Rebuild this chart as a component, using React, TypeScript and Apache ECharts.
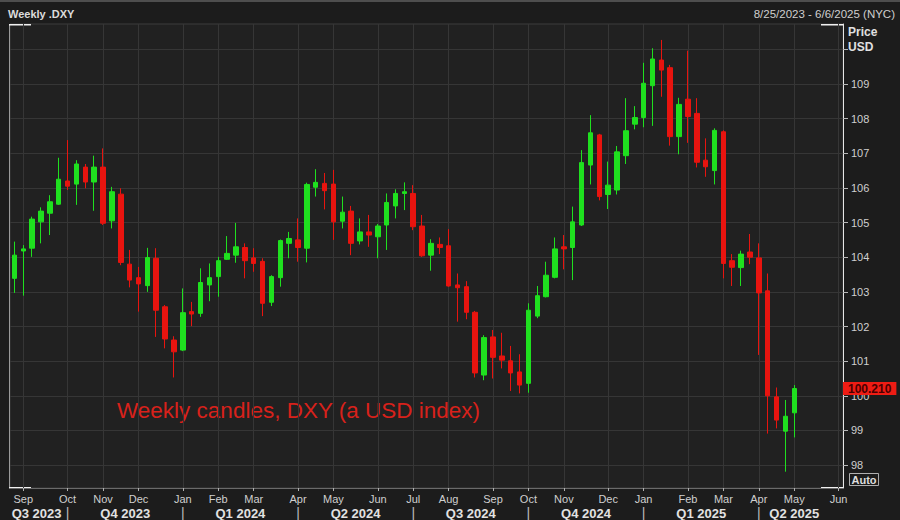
import React, { useEffect, useRef } from 'react';
import * as echarts from 'echarts';

// ---- data (weekly DXY candles, week ending Friday) ----
const firstWeek = '2023-08-25';
const weekSlots = 94; // axis runs 8/25/2023 - 6/6/2025
const opens = [
  103.39, 104.18, 104.26, 105.02, 105.27, 105.53, 106.20, 106.11, 106.60, 106.17,
  106.60, 105.05, 105.82, 103.80, 103.41, 103.18, 103.97, 102.57, 101.61, 101.32,
  102.43, 102.38, 103.20, 103.44, 103.94, 104.06, 104.28, 103.98, 103.88, 102.70,
  103.41, 104.40, 104.50, 104.26, 106.02, 106.13, 106.11, 105.04, 105.33, 104.47,
  104.73, 104.59, 104.93, 105.48, 105.84, 105.84, 104.90, 104.06, 104.37, 104.33,
  103.20, 103.15, 102.41, 100.60, 101.70, 101.15, 101.01, 100.69, 100.36, 102.30,
  102.86, 103.42, 104.30, 104.28, 104.93, 106.66, 107.53, 105.81, 105.94, 106.93,
  107.84, 108.03, 108.95, 109.69, 109.47, 107.48, 108.56, 108.15, 106.80, 106.50,
  107.62, 103.90, 103.70, 104.15, 103.98, 103.03, 99.97, 98.98, 99.51,
];
const closes = [
  104.06, 104.24, 105.10, 105.33, 105.60, 106.25, 106.05, 106.69, 106.17, 106.60,
  104.98, 105.89, 103.85, 103.34, 103.23, 103.99, 102.47, 101.64, 101.27, 102.40,
  102.36, 103.27, 103.41, 103.90, 104.11, 104.30, 103.90, 103.82, 102.67, 103.44,
  104.48, 104.54, 104.28, 106.10, 106.16, 105.92, 105.02, 105.30, 104.40, 104.73,
  104.64, 104.90, 105.58, 105.84, 105.89, 104.88, 104.04, 104.40, 104.28, 103.17,
  103.12, 102.41, 100.66, 101.68, 101.11, 101.03, 100.66, 100.31, 102.47, 102.89,
  103.48, 104.24, 104.24, 105.02, 106.73, 107.59, 105.75, 106.08, 107.04, 107.65,
  108.03, 109.02, 109.72, 109.40, 107.48, 108.41, 108.06, 106.74, 106.61, 107.66,
  103.82, 103.71, 104.09, 104.00, 102.97, 100.00, 99.30, 99.41, 100.21,
];
const lows = [
  102.97, 102.89, 104.01, 104.40, 104.64, 105.51, 105.94, 105.51, 105.99, 105.34,
  104.93, 104.83, 103.77, 103.13, 102.43, 103.00, 101.70, 101.37, 100.53, 101.29,
  102.01, 102.28, 102.73, 102.86, 103.92, 103.84, 103.39, 103.58, 102.30, 102.59,
  103.15, 103.97, 103.87, 103.85, 105.75, 105.38, 104.50, 104.83, 104.06, 104.37,
  104.30, 103.97, 104.21, 105.12, 105.36, 104.78, 104.01, 103.61, 104.09, 103.15,
  102.14, 102.21, 100.53, 100.45, 100.50, 100.79, 100.14, 100.07, 100.09, 102.24,
  102.84, 103.39, 103.65, 103.34, 104.90, 106.10, 105.64, 105.39, 105.81, 106.69,
  107.69, 107.75, 107.79, 108.63, 107.22, 106.97, 107.30, 106.59, 106.32, 106.10,
  103.39, 103.17, 103.17, 103.80, 101.18, 98.91, 99.06, 97.81, 98.80,
];
const highs = [
  104.45, 104.35, 105.17, 105.44, 105.79, 106.87, 107.38, 106.80, 106.69, 106.93,
  107.14, 106.03, 105.99, 104.21, 103.72, 104.27, 104.26, 102.62, 101.72, 103.10,
  102.71, 103.68, 103.82, 104.01, 104.61, 104.99, 104.40, 104.26, 103.97, 103.48,
  104.51, 104.73, 105.12, 106.15, 106.54, 106.43, 106.52, 105.75, 105.48, 105.12,
  105.22, 104.96, 105.84, 105.96, 106.16, 106.08, 105.22, 104.52, 104.57, 104.81,
  103.53, 103.31, 102.45, 101.75, 101.90, 101.82, 101.44, 101.20, 102.67, 103.17,
  103.87, 104.57, 104.64, 105.46, 107.09, 108.10, 107.56, 106.76, 107.21, 108.59,
  108.36, 109.61, 110.03, 110.27, 109.55, 108.60, 109.96, 108.59, 107.43, 107.72,
  107.66, 104.09, 104.19, 104.67, 104.40, 103.53, 100.24, 99.88, 100.31,
];
const lastPrice = 100.21;
const yTickValues = [98, 99, 100, 101, 102, 103, 104, 105, 106, 107, 108, 109, 110];
const yLabelValues = [98, 99, 100, 101, 102, 103, 104, 105, 106, 107, 108, 109];
const monthNames = ['Jan', 'Feb', 'Mar', 'Apr', 'May', 'Jun', 'Jul', 'Aug', 'Sep', 'Oct', 'Nov', 'Dec'];
const quarterLabels = ['Q3 2023', 'Q4 2023', 'Q1 2024', 'Q2 2024', 'Q3 2024', 'Q4 2024', 'Q1 2025', 'Q2 2025'];
const quarterLabelPos = [2.5, 12.5, 25.5, 38.5, 51.5, 64.5, 77.5, 88];
const quarterStarts = [6, 19, 32, 45, 58, 71, 84];

const GREEN = '#1fe01f';
const RED = '#e8140f';
const FONT = 'Liberation Sans, Arial, sans-serif';
const CLEAR = 'rgba(0,0,0,0)';

function buildCategories(): string[] {
  const out: string[] = [];
  const [y, m, d] = firstWeek.split('-').map(Number);
  const t0 = Date.UTC(y, m - 1, d);
  for (let i = 0; i < weekSlots; i++) {
    out.push(new Date(t0 + i * 7 * 86400000).toISOString().slice(0, 10));
  }
  return out;
}

export default function App() {
  const ref = useRef<HTMLDivElement>(null);
  useEffect(() => {
    if (!ref.current) return;
    const chart = echarts.init(ref.current, undefined, { renderer: 'svg' });
    const categories = buildCategories();
    const isMonthStart = (idx: number) => Number(categories[idx].slice(8, 10)) <= 7;
    const monthStarts = categories.filter((_, i) => isMonthStart(i));
    const candles = opens.map((o, i) => [o, closes[i], lows[i], highs[i]]);
    const quarterAxisValues = [...quarterLabelPos, ...quarterStarts].sort((a, b) => a - b);

    chart.setOption({
      animation: false,
      backgroundColor: '#1c1c1c',
      textStyle: { fontFamily: FONT },
      grid: {
        left: 10, right: 57, top: 24, bottom: 32,
        outerBoundsMode: 'none', containLabel: false,
        show: true, backgroundColor: '#212121', borderColor: '#3c3c3c', borderWidth: 1,
      },
      xAxis: [
        {
          type: 'category',
          data: categories,
          boundaryGap: true,
          axisLine: { show: true, onZero: false, lineStyle: { color: '#6a6a6a' } },
          axisTick: {
            show: true, alignWithLabel: true, length: 3,
            interval: (i: number) => isMonthStart(i),
            lineStyle: { color: '#b0b0b0' },
          },
          axisLabel: {
            interval: (i: number) => isMonthStart(i),
            formatter: (v: string) => monthNames[Number(v.slice(5, 7)) - 1],
            color: '#cfcfcf', fontSize: 11, margin: 5, fontFamily: FONT,
          },
          splitLine: { show: false },
        },
        {
          // quarter names and separators
          type: 'value',
          min: -0.5, max: weekSlots - 0.5,
          position: 'bottom', offset: 16,
          axisLine: { show: false, onZero: false },
          axisTick: { show: false },
          axisLabel: {
            customValues: quarterAxisValues,
            formatter: (v: number) => {
              if (quarterStarts.indexOf(v) >= 0) return '{s||}';
              const k = quarterLabelPos.indexOf(v);
              return k >= 0 ? quarterLabels[k] : '';
            },
            rich: {
              s: { fontSize: 14, fontWeight: 'normal', color: '#bdbdbd', fontFamily: FONT, lineHeight: 12 },
            },
            color: '#e2e2e2', fontSize: 13, fontWeight: 'bold', margin: 3, fontFamily: FONT,
          },
          splitLine: { show: false },
        },
      ],
      yAxis: {
        type: 'value',
        position: 'right',
        min: 97.34, max: 110.73,
        axisLine: { show: true, onZero: false, lineStyle: { color: '#e6e6e6' } },
        axisTick: { show: true, customValues: yTickValues, length: 5, lineStyle: { color: '#b8b8b8' } },
        axisLabel: { customValues: yLabelValues, color: '#cfcfcf', fontSize: 11, margin: 8, fontFamily: FONT },
        splitLine: { show: true, lineStyle: { color: '#363636' } },
      },
      series: [
        {
          type: 'candlestick',
          xAxisIndex: 0,
          data: candles,
          barWidth: 5,
          z: 3,
          itemStyle: { color: GREEN, color0: RED, borderColor: GREEN, borderColor0: RED, borderWidth: 1 },
          markLine: {
            silent: true,
            z: 1,
            symbol: ['none', 'none'],
            label: { show: false },
            lineStyle: { color: '#363636', type: 'solid', width: 1 },
            data: [
              ...monthStarts.map((c) => ({ xAxis: c })),
              {
                yAxis: lastPrice,
                lineStyle: { color: CLEAR, width: 1, opacity: 1 },
                label: {
                  show: true, position: 'end', distance: 0,
                  formatter: lastPrice.toFixed(3),
                  backgroundColor: '#ee1c14', color: '#4a0000', opacity: 1,
                  fontWeight: 'bold', fontSize: 12, fontFamily: FONT,
                  padding: [1, 5, 0, 5],
                },
              },
            ],
          },
        },
      ],
      graphic: [
        { type: 'rect', left: 0, top: 0, shape: { width: 900, height: 2 }, style: { fill: '#4e4e4e' }, silent: true },
        { type: 'text', left: 8, top: 8, style: { text: 'Weekly .DXY', fill: '#dcdcdc', font: `bold 11px ${FONT}` } },
        { type: 'text', right: 5, top: 8, style: { text: '8/25/2023 - 6/6/2025 (NYC)', fill: '#cfcfcf', font: `11.5px ${FONT}` } },
        { type: 'text', left: 848, top: 26, style: { text: 'Price', fill: '#e0e0e0', font: `bold 12px ${FONT}` } },
        { type: 'text', left: 848, top: 41, style: { text: 'USD', fill: '#e0e0e0', font: `bold 12px ${FONT}` } },
        {
          type: 'text', left: 849, top: 473,
          style: {
            text: 'Auto', fill: '#dedede', font: `bold 11px ${FONT}`,
            borderColor: '#b0b0b0', borderWidth: 1, padding: [1, 2, 0, 2],
          },
        },
        { type: 'text', left: 117, top: 399, style: { text: 'Weekly candles, DXY (a USD index)', fill: '#d8211b', font: `22.5px ${FONT}` } },
        { type: 'rect', left: 9, top: 24, shape: { width: 1, height: 464 }, style: { fill: '#9a9a9a' }, silent: true },
        { type: 'rect', left: 9, top: 24, shape: { width: 22, height: 1.5 }, style: { fill: '#f0f0f0' }, silent: true },
        { type: 'rect', left: 821, top: 24, shape: { width: 22, height: 1.5 }, style: { fill: '#f0f0f0' }, silent: true },
        { type: 'rect', left: 9, top: 487, shape: { width: 22, height: 1.5 }, style: { fill: '#f0f0f0' }, silent: true },
        { type: 'rect', left: 821, top: 487, shape: { width: 22, height: 1.5 }, style: { fill: '#f0f0f0' }, silent: true },
      ],
    });
    return () => chart.dispose();
  }, []);
  return <div ref={ref} style={{ position: 'fixed', left: 0, top: 0, width: 900, height: 520 }} />;
}
